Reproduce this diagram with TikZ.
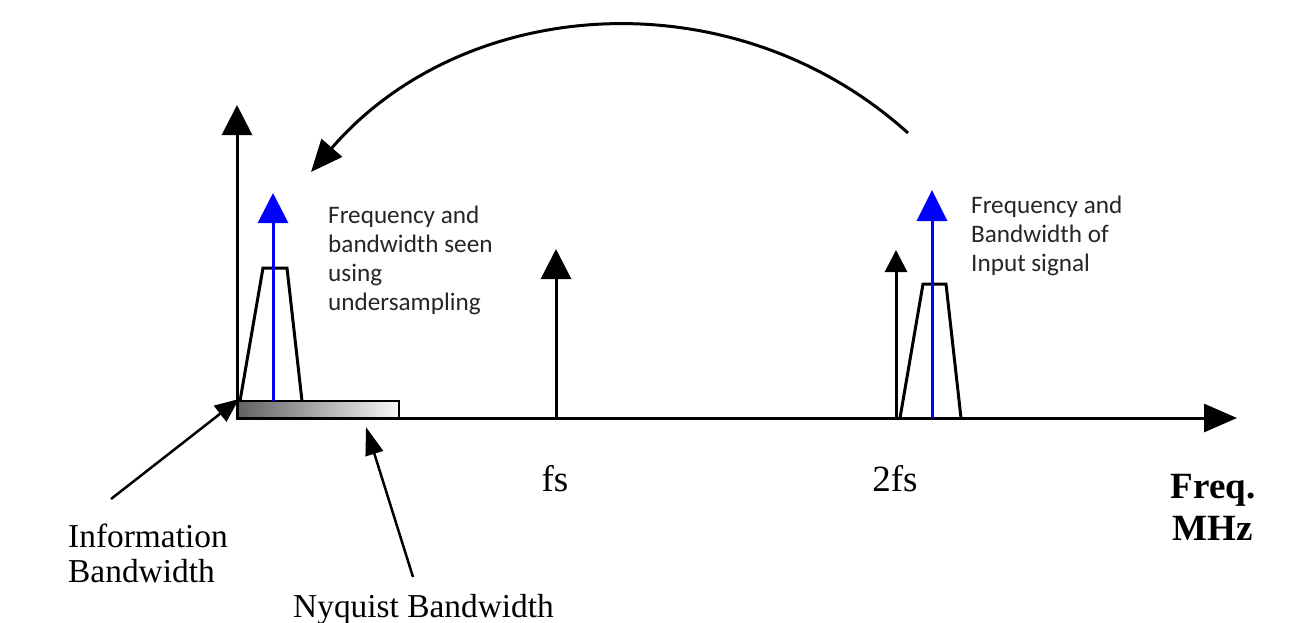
\documentclass[tikz,border=0pt]{standalone}
\usepackage{fontspec}
\setmainfont{Liberation Serif}
\newfontfamily\calfont{Carlito}
\usetikzlibrary{arrows.meta}
\tikzset{
  ln/.style={line width=3pt, line cap=butt, line join=miter},
  bigtip/.style={-{Triangle[length=30pt,width=30pt]}},
  callout/.style={align=left, inner sep=0pt, text=black!85, font=\calfont\fontsize{25.2}{29}\selectfont},
  serlab/.style={inner sep=0pt, font=\fontsize{33.4}{35}\selectfont},
  trap/.style={line width=3pt, line join=miter},
}
\begin{document}
\begin{tikzpicture}[x=1pt,y=-1pt]
\useasboundingbox (0,0) rectangle (1306,622);
\fill[white] (0,0) rectangle (1306,622);

% key points
\coordinate (O) at (236,418);
\coordinate (Xend) at (1237,418);
\coordinate (Yend) at (237,105);

% Nyquist band (shaded bar)
\node[draw, line width=2.5pt, inner sep=0pt, minimum width=162pt, minimum height=17pt,
      left color=black!62, right color=black!3] (band) at (318,409.5) {};

% axes
\draw[ln, -{Triangle[length=33pt,width=28pt]}] (O) -- (Xend);
\draw[ln, bigtip] (237,419) coordinate (Ybase) -- (Yend);

% left (aliased) signal
\draw[trap] (240,401) -- (263,268) -- (287,268) -- (302,401);
\coordinate (b1s) at (273,401);
\coordinate (b1t) at (273,193);
\draw[ln, blue, bigtip] (b1s) -- (b1t);

% fs arrow
\coordinate (fsb) at (556,418);
\coordinate (fst) at (556,249);
\draw[ln, bigtip] (fsb) -- (fst);

% 2fs arrow
\coordinate (f2b) at (896,418);
\coordinate (f2t) at (896,250);
\draw[ln, -{Triangle[length=22pt,width=22pt]}] (f2b) -- (f2t);

% right (input) signal
\draw[trap] (900,418) -- (923,284) -- (946,284) -- (961,418);
\coordinate (b2s) at (932,418);
\coordinate (b2t) at (932,190);
\draw[ln, blue, -{Triangle[length=31pt,width=30pt]}] (b2s) -- (b2t);

% folding arc
\coordinate (arcS) at (908,133);
\coordinate (arcE) at (311,172);
\draw[ln, -{Triangle[length=32pt,width=27pt]}] (arcS) .. controls (734,-24) and (465,-6) .. (arcE);

% callout texts (base anchor = last line baseline)
\node[callout, anchor=base west] (t1) at (328,310) {Frequency and\\bandwidth seen\\using\\undersampling};
\node[callout, anchor=base west] (t2) at (971,271) {Frequency and\\Bandwidth of\\Input signal};

% axis labels
\node[inner sep=0pt, anchor=base, font=\fontsize{37}{40}\selectfont] (fs) at (555,491) {fs};
\node[inner sep=0pt, anchor=base, font=\fontsize{37}{40}\selectfont] (f2s) at (895,491) {2fs};
\node[inner sep=0pt, anchor=base, align=center, font=\bfseries\fontsize{37}{42}\selectfont] (freq) at (1213,540) {Freq.\\MHz};

% bandwidth labels
\node[serlab, anchor=base west, align=left] (info) at (68,582) {Information\\Bandwidth};
\node[serlab, anchor=base west] (nyq) at (293,617) {Nyquist Bandwidth};

% pointer arrows
\coordinate (infoS) at (111,499);
\coordinate (infoT) at (239,399);
\draw[line width=2.5pt, -{Triangle[length=24pt,width=20pt]}] (infoS) -- (infoT);
\coordinate (nyqS) at (413,577);
\coordinate (nyqT) at (366,427);
\draw[line width=2.5pt, -{Triangle[length=28pt,width=18pt]}] (nyqS) -- (nyqT);
\end{tikzpicture}
\end{document}
